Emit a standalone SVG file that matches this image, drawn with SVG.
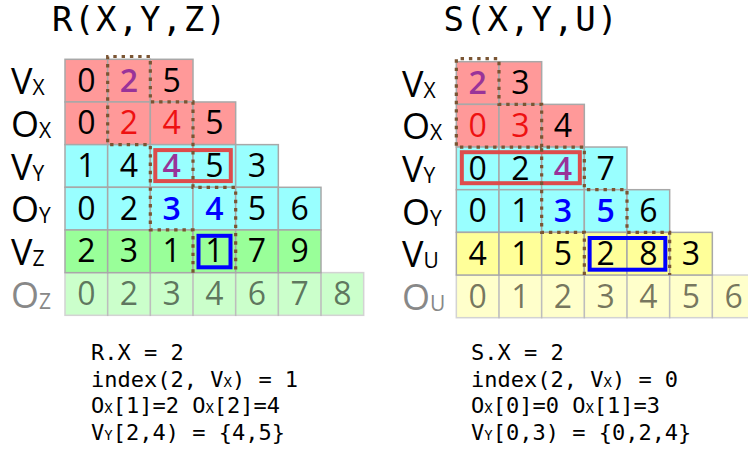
<svg xmlns="http://www.w3.org/2000/svg" width="748" height="459" viewBox="0 0 748 459">
<style>
.c{stroke:#a8a8a8;stroke-width:1.5}
.pk{fill:#ff9999}.cy{fill:#99ffff}.gr{fill:#99ff99}.ye{fill:#ffff99}
.fd{opacity:.5}
.d{font-family:"Open Sans","Noto Sans","DejaVu Sans",sans-serif;font-size:32px;text-anchor:middle;fill:#000}
.dp{fill:#993399;font-weight:600}
.dr{fill:#ee1111}
.db{fill:#0000ff;font-weight:600}
.dg{fill-opacity:.55}
.lab{font-family:"Open Sans","Noto Sans","DejaVu Sans",sans-serif;font-size:36px;fill:#000}
.lg{fill:#888888}
.sub{font-size:21px}
.title{font-family:"DejaVu Sans Mono",monospace;font-size:34px;letter-spacing:1.5px;fill:#000}
.code{font-family:"DejaVu Sans Mono",monospace;font-size:22px;fill:#000}
.cs{font-size:14px}
.dot{fill:none;stroke:#7a5533;stroke-width:3.2;stroke-dasharray:3.4 4.9}
.rb{fill:none;stroke:#dd4c4c;stroke-width:4}
.bb{fill:none;stroke:#0000ff;stroke-width:4}
</style>

<g id="titles">
<text class="title" x="52" y="31">R(X,Y,Z)</text>
<text class="title" x="443.5" y="31">S(X,Y,U)</text>
</g>

<g id="labelsR">
<text class="lab" x="11" y="94.3">V<tspan class="sub" dy="1">X</tspan></text>
<text class="lab" x="11" y="137">O<tspan class="sub" dy="1">X</tspan></text>
<text class="lab" x="11" y="179.7">V<tspan class="sub" dy="1">Y</tspan></text>
<text class="lab" x="11" y="222.3">O<tspan class="sub" dy="1">Y</tspan></text>
<text class="lab" x="11" y="265">V<tspan class="sub" dy="1">Z</tspan></text>
<text class="lab lg" x="11" y="307.7">O<tspan class="sub" dy="1">Z</tspan></text>
</g>

<g id="labelsS">
<text class="lab" x="402" y="96.7">V<tspan class="sub" dy="1">X</tspan></text>
<text class="lab" x="402" y="139.3">O<tspan class="sub" dy="1">X</tspan></text>
<text class="lab" x="402" y="182">V<tspan class="sub" dy="1">Y</tspan></text>
<text class="lab" x="402" y="224.7">O<tspan class="sub" dy="1">Y</tspan></text>
<text class="lab" x="402" y="267.3">V<tspan class="sub" dy="1">U</tspan></text>
<text class="lab lg" x="402" y="310">O<tspan class="sub" dy="1">U</tspan></text>
</g>

<g id="tableR" transform="translate(65,59.3)">
<g id="R-Oz">
<rect class="c gr fd" x="0" y="213.33" width="42.67" height="42.67"/>
<rect class="c gr fd" x="42.67" y="213.33" width="42.67" height="42.67"/>
<rect class="c gr fd" x="85.33" y="213.33" width="42.67" height="42.67"/>
<rect class="c gr fd" x="128" y="213.33" width="42.67" height="42.67"/>
<rect class="c gr fd" x="170.67" y="213.33" width="42.67" height="42.67"/>
<rect class="c gr fd" x="213.33" y="213.33" width="42.67" height="42.67"/>
<rect class="c gr fd" x="256" y="213.33" width="42.67" height="42.67"/>
<text class="d dg" x="21.33" y="245.83">0</text>
<text class="d dg" x="64" y="245.83">2</text>
<text class="d dg" x="106.67" y="245.83">3</text>
<text class="d dg" x="149.33" y="245.83">4</text>
<text class="d dg" x="192" y="245.83">6</text>
<text class="d dg" x="234.67" y="245.83">7</text>
<text class="d dg" x="277.33" y="245.83">8</text>
</g>
<g id="R-Vx">
<rect class="c pk" x="0" y="0" width="42.67" height="42.67"/>
<rect class="c pk" x="42.67" y="0" width="42.67" height="42.67"/>
<rect class="c pk" x="85.33" y="0" width="42.67" height="42.67"/>
<text class="d" x="21.33" y="32.5">0</text>
<text class="d dp" x="64" y="32.5">2</text>
<text class="d" x="106.67" y="32.5">5</text>
</g>
<g id="R-Ox">
<rect class="c pk" x="0" y="42.67" width="42.67" height="42.67"/>
<rect class="c pk" x="42.67" y="42.67" width="42.67" height="42.67"/>
<rect class="c pk" x="85.33" y="42.67" width="42.67" height="42.67"/>
<rect class="c pk" x="128" y="42.67" width="42.67" height="42.67"/>
<text class="d" x="21.33" y="75.17">0</text>
<text class="d dr" x="64" y="75.17">2</text>
<text class="d dr" x="106.67" y="75.17">4</text>
<text class="d" x="149.33" y="75.17">5</text>
</g>
<g id="R-Vy">
<rect class="c cy" x="0" y="85.33" width="42.67" height="42.67"/>
<rect class="c cy" x="42.67" y="85.33" width="42.67" height="42.67"/>
<rect class="c cy" x="85.33" y="85.33" width="42.67" height="42.67"/>
<rect class="c cy" x="128" y="85.33" width="42.67" height="42.67"/>
<rect class="c cy" x="170.67" y="85.33" width="42.67" height="42.67"/>
<text class="d" x="21.33" y="117.83">1</text>
<text class="d" x="64" y="117.83">4</text>
<text class="d dp" x="106.67" y="117.83">4</text>
<text class="d" x="149.33" y="117.83">5</text>
<text class="d" x="192" y="117.83">3</text>
</g>
<g id="R-Oy">
<rect class="c cy" x="0" y="128" width="42.67" height="42.67"/>
<rect class="c cy" x="42.67" y="128" width="42.67" height="42.67"/>
<rect class="c cy" x="85.33" y="128" width="42.67" height="42.67"/>
<rect class="c cy" x="128" y="128" width="42.67" height="42.67"/>
<rect class="c cy" x="170.67" y="128" width="42.67" height="42.67"/>
<rect class="c cy" x="213.33" y="128" width="42.67" height="42.67"/>
<text class="d" x="21.33" y="160.5">0</text>
<text class="d" x="64" y="160.5">2</text>
<text class="d db" x="106.67" y="160.5">3</text>
<text class="d db" x="149.33" y="160.5">4</text>
<text class="d" x="192" y="160.5">5</text>
<text class="d" x="234.67" y="160.5">6</text>
</g>
<g id="R-Vz">
<rect class="c gr" x="0" y="170.67" width="42.67" height="42.67"/>
<rect class="c gr" x="42.67" y="170.67" width="42.67" height="42.67"/>
<rect class="c gr" x="85.33" y="170.67" width="42.67" height="42.67"/>
<rect class="c gr" x="128" y="170.67" width="42.67" height="42.67"/>
<rect class="c gr" x="170.67" y="170.67" width="42.67" height="42.67"/>
<rect class="c gr" x="213.33" y="170.67" width="42.67" height="42.67"/>
<text class="d" x="21.33" y="203.17">2</text>
<text class="d" x="64" y="203.17">3</text>
<text class="d" x="106.67" y="203.17">1</text>
<text class="d" x="149.33" y="203.17">1</text>
<text class="d" x="192" y="203.17">7</text>
<text class="d" x="234.67" y="203.17">9</text>
</g>
<g id="R-marks">
<rect class="rb" x="90.3" y="90.8" width="75.5" height="31"/>
<rect class="bb" x="133.5" y="176.5" width="32" height="31.5"/>
<path class="dot" d="M128,213.33 V170.67 H85.33 V85.33 H42.67 V-2.8 H85.33 V42.67 H128 V128 H170.67 V213.33"/>
</g>
</g>

<g id="tableS" transform="translate(456.33,61.7)">
<g id="S-Ou">
<rect class="c ye fd" x="0" y="213.33" width="42.67" height="42.67"/>
<rect class="c ye fd" x="42.67" y="213.33" width="42.67" height="42.67"/>
<rect class="c ye fd" x="85.33" y="213.33" width="42.67" height="42.67"/>
<rect class="c ye fd" x="128" y="213.33" width="42.67" height="42.67"/>
<rect class="c ye fd" x="170.67" y="213.33" width="42.67" height="42.67"/>
<rect class="c ye fd" x="213.33" y="213.33" width="42.67" height="42.67"/>
<rect class="c ye fd" x="256" y="213.33" width="42.67" height="42.67"/>
<text class="d dg" x="21.33" y="245.83">0</text>
<text class="d dg" x="64" y="245.83">1</text>
<text class="d dg" x="106.67" y="245.83">2</text>
<text class="d dg" x="149.33" y="245.83">3</text>
<text class="d dg" x="192" y="245.83">4</text>
<text class="d dg" x="234.67" y="245.83">5</text>
<text class="d dg" x="277.33" y="245.83">6</text>
</g>
<g id="S-Vx">
<rect class="c pk" x="0" y="0" width="42.67" height="42.67"/>
<rect class="c pk" x="42.67" y="0" width="42.67" height="42.67"/>
<text class="d dp" x="21.33" y="32.5">2</text>
<text class="d" x="64" y="32.5">3</text>
</g>
<g id="S-Ox">
<rect class="c pk" x="0" y="42.67" width="42.67" height="42.67"/>
<rect class="c pk" x="42.67" y="42.67" width="42.67" height="42.67"/>
<rect class="c pk" x="85.33" y="42.67" width="42.67" height="42.67"/>
<text class="d dr" x="21.33" y="75.17">0</text>
<text class="d dr" x="64" y="75.17">3</text>
<text class="d" x="106.67" y="75.17">4</text>
</g>
<g id="S-Vy">
<rect class="c cy" x="0" y="85.33" width="42.67" height="42.67"/>
<rect class="c cy" x="42.67" y="85.33" width="42.67" height="42.67"/>
<rect class="c cy" x="85.33" y="85.33" width="42.67" height="42.67"/>
<rect class="c cy" x="128" y="85.33" width="42.67" height="42.67"/>
<text class="d" x="21.33" y="117.83">0</text>
<text class="d" x="64" y="117.83">2</text>
<text class="d dp" x="106.67" y="117.83">4</text>
<text class="d" x="149.33" y="117.83">7</text>
</g>
<g id="S-Oy">
<rect class="c cy" x="0" y="128" width="42.67" height="42.67"/>
<rect class="c cy" x="42.67" y="128" width="42.67" height="42.67"/>
<rect class="c cy" x="85.33" y="128" width="42.67" height="42.67"/>
<rect class="c cy" x="128" y="128" width="42.67" height="42.67"/>
<rect class="c cy" x="170.67" y="128" width="42.67" height="42.67"/>
<text class="d" x="21.33" y="160.5">0</text>
<text class="d" x="64" y="160.5">1</text>
<text class="d db" x="106.67" y="160.5">3</text>
<text class="d db" x="149.33" y="160.5">5</text>
<text class="d" x="192" y="160.5">6</text>
</g>
<g id="S-Vu">
<rect class="c ye" x="0" y="170.67" width="42.67" height="42.67"/>
<rect class="c ye" x="42.67" y="170.67" width="42.67" height="42.67"/>
<rect class="c ye" x="85.33" y="170.67" width="42.67" height="42.67"/>
<rect class="c ye" x="128" y="170.67" width="42.67" height="42.67"/>
<rect class="c ye" x="170.67" y="170.67" width="42.67" height="42.67"/>
<rect class="c ye" x="213.33" y="170.67" width="42.67" height="42.67"/>
<text class="d" x="21.33" y="203.17">4</text>
<text class="d" x="64" y="203.17">1</text>
<text class="d" x="106.67" y="203.17">5</text>
<text class="d" x="149.33" y="203.17">2</text>
<text class="d" x="192" y="203.17">8</text>
<text class="d" x="234.67" y="203.17">3</text>
</g>
<g id="S-marks">
<rect class="rb" x="5.5" y="90.5" width="118" height="31"/>
<rect class="bb" x="133.3" y="176.3" width="75.7" height="31.7"/>
<path class="dot" d="M128,213.33 V170.67 H85.33 V85.33 H0 V-3 H42.67 V42.67 H85.33 V85.33 H128 V128 H170.67 V170.67 H213.33 V213.33"/>
</g>
</g>

<g id="noteR">
<text class="code" x="91" y="360">R.X = 2</text>
<text class="code" x="91" y="386.7">index(2, V<tspan class="cs">X</tspan>) = 1</text>
<text class="code" x="91" y="413.3">O<tspan class="cs">X</tspan>[1]=2 O<tspan class="cs">X</tspan>[2]=4</text>
<text class="code" x="91" y="440">V<tspan class="cs">Y</tspan>[2,4) = {4,5}</text>
</g>
<g id="noteS">
<text class="code" x="471" y="360">S.X = 2</text>
<text class="code" x="471" y="386.7">index(2, V<tspan class="cs">X</tspan>) = 0</text>
<text class="code" x="471" y="413.3">O<tspan class="cs">X</tspan>[0]=0 O<tspan class="cs">X</tspan>[1]=3</text>
<text class="code" x="471" y="440">V<tspan class="cs">Y</tspan>[0,3) = {0,2,4}</text>
</g>
</svg>
